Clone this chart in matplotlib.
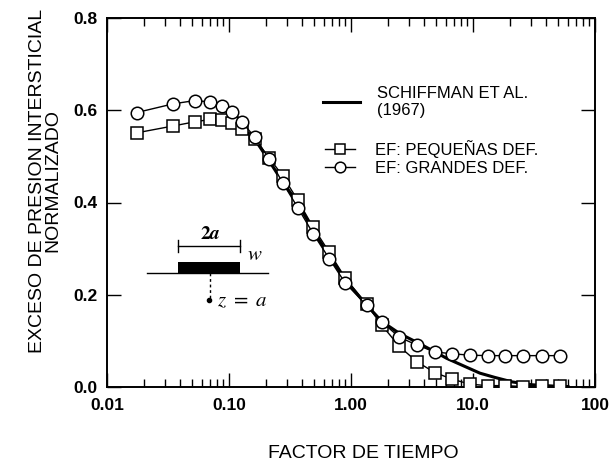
import matplotlib
matplotlib.use("Agg")
import matplotlib.pyplot as plt
import numpy as np
from matplotlib.ticker import FixedLocator, FixedFormatter, LogLocator, NullFormatter

plt.rcParams['font.family'] = ['Liberation Sans', 'DejaVu Sans']
plt.rcParams['mathtext.fontset'] = 'stix'

# factor de tiempo (común a las dos series de elementos finitos)
t_ef = [0.0175, 0.035, 0.0525, 0.07, 0.0875, 0.105, 0.1275, 0.163, 0.213, 0.275,
        0.366, 0.491, 0.664, 0.894, 1.34, 1.79, 2.49, 3.46, 4.88, 6.77, 9.45,
        13.2, 18.3, 25.5, 36.6, 51.6]
# EF: pequeñas deformaciones (cuadrados)
u_peq = [0.551, 0.566, 0.575, 0.580, 0.578, 0.572, 0.560, 0.537, 0.497, 0.458,
         0.405, 0.346, 0.292, 0.237, 0.179, 0.134, 0.088, 0.055, 0.031, 0.017,
         0.006, 0.003, 0.003, 0.001, 0.003, 0.003]
# EF: grandes deformaciones (círculos)
u_gra = [0.595, 0.614, 0.621, 0.618, 0.609, 0.597, 0.575, 0.541, 0.495, 0.443,
         0.389, 0.332, 0.278, 0.226, 0.177, 0.141, 0.108, 0.091, 0.076, 0.072,
         0.069, 0.068, 0.068, 0.068, 0.068, 0.068]
# Schiffman et al. (1967)
t_sch = [0.12, 0.16, 0.21, 0.27, 0.37, 0.49, 0.66, 0.9, 1.34, 1.79, 2.5, 3.46,
         4.9, 6.1, 8.5, 11.4, 15, 21, 30, 45, 60]
u_sch = [0.567, 0.54, 0.493, 0.448, 0.397, 0.339, 0.285, 0.232, 0.178, 0.142,
         0.116, 0.097, 0.076, 0.062, 0.045, 0.030, 0.021, 0.011, 0.005, 0.002, 0.001]

xticks = [0.01, 0.1, 1, 10, 100]
xticklabels = ['0.01', '0.10', '1.00', '10.0', '100']
yticks = [0.0, 0.2, 0.4, 0.6, 0.8]
yticklabels = ['0.0', '0.2', '0.4', '0.6', '0.8']

fig = plt.figure(figsize=(6.09, 4.67), dpi=100)
ax = fig.add_axes([107/609, 1-387/467, 488/609, 369/467])

l_sch, = ax.plot(t_sch, u_sch, 'k-', lw=2.2, zorder=2)
l_peq, = ax.plot(t_ef, u_peq, 'k-', lw=1.0, marker='s', ms=8, mfc='white',
                 mec='black', mew=1.1, zorder=3)
l_gra, = ax.plot(t_ef, u_gra, 'k-', lw=1.0, marker='o', ms=9, mfc='white',
                 mec='black', mew=1.1, zorder=4)

ax.set_xscale('log')
ax.set_xlim(0.01, 100)
ax.set_ylim(0, 0.8)
ax.xaxis.set_major_locator(FixedLocator(xticks))
ax.xaxis.set_major_formatter(FixedFormatter(xticklabels))
ax.xaxis.set_minor_locator(LogLocator(base=10, subs=np.arange(2, 10)))
ax.xaxis.set_minor_formatter(NullFormatter())
ax.yaxis.set_major_locator(FixedLocator(yticks))
ax.yaxis.set_major_formatter(FixedFormatter(yticklabels))

ax.tick_params(which='both', direction='in', top=True, right=True, width=1.0)
ax.tick_params(which='major', length=10)
ax.tick_params(which='minor', length=6)
ax.tick_params(axis='x', which='major', pad=8)
ax.tick_params(axis='y', which='major', pad=7)
for lab in ax.get_xticklabels() + ax.get_yticklabels():
    lab.set_fontsize(12.5)
    lab.set_fontweight('bold')
for s in ax.spines.values():
    s.set_linewidth(1.4)

fig.text(363/609, 1-453/467, 'FACTOR DE TIEMPO', fontsize=14,
         ha='center', va='center')
fig.text(45.5/609, 1-181/467, 'EXCESO DE PRESION INTERSTICIAL\nNORMALIZADO',
         fontsize=14, rotation=90, ha='center', va='center',
         multialignment='center', linespacing=0.85)

leg1 = ax.legend([l_sch], ['SCHIFFMAN ET AL.\n(1967)'], loc='center left',
                 bbox_to_anchor=(0.443, 0.772), frameon=False, fontsize=12,
                 handlelength=2.2, handletextpad=1.0, borderpad=0, borderaxespad=0)
ax.add_artist(leg1)
ax.legend([l_peq, l_gra], ['EF: PEQUEÑAS DEF.', 'EF: GRANDES DEF.'],
          loc='center left', bbox_to_anchor=(0.447, 0.621), frameon=False,
          fontsize=12, handlelength=1.8, handletextpad=1.2, labelspacing=0.15,
          borderpad=0, borderaxespad=0, markerscale=0.85)

# esquema de la carga en faja
tr = ax.transAxes
ax.plot([0.081, 0.330], [0.308, 0.308], color='black', lw=1.0, transform=tr)
ax.fill_between([0.146, 0.273], 0.308, 0.340, color='black', transform=tr, lw=0)
ax.plot([0.146, 0.273], [0.382, 0.382], color='black', lw=1.0, transform=tr)
ax.plot([0.146, 0.146], [0.366, 0.398], color='black', lw=1.0, transform=tr)
ax.plot([0.273, 0.273], [0.366, 0.398], color='black', lw=1.0, transform=tr)
ax.plot([0.211, 0.211], [0.308, 0.240], color='black', lw=1.0, ls=(0, (2, 2)),
        transform=tr)
ax.plot([0.209], [0.236], 'ko', ms=3, transform=tr)
ax.text(0.211, 0.412, '$\\mathbf{2}\\mathbfit{a}$', transform=tr, ha='center',
        va='center', fontsize=14)
ax.text(0.287, 0.358, '$w$', transform=tr, ha='left', va='center', fontsize=15)
ax.text(0.225, 0.234, '$z\\ =\\ a$', transform=tr, ha='left', va='center',
        fontsize=15)

fig.savefig('out.png', dpi=100)
